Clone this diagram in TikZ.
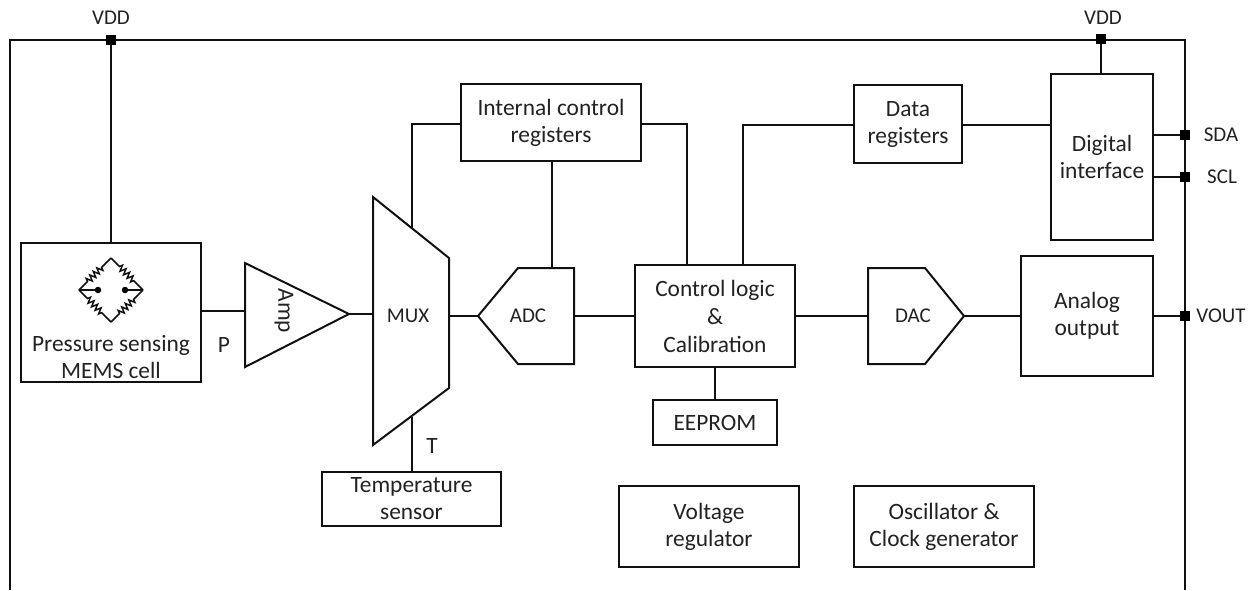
\documentclass[tikz,border=0pt]{standalone}
\usepackage{fontspec}
\setmainfont{Carlito}
\usetikzlibrary{decorations.pathmorphing,calc}
\definecolor{ink}{HTML}{111111}
\definecolor{txt}{HTML}{222222}
\tikzset{
  x=1pt,y=-1pt,
  every node/.style={text=txt,font=\fontsize{23.4}{27}\selectfont},
  wire/.style={draw=ink,line width=2pt},
  blockbox/.style={draw=ink,line width=2pt,align=center,inner sep=0pt,outer sep=0pt,fill=white},
  shapeline/.style={draw=ink,line width=2pt,line join=miter,fill=white},
  lbl/.style={inner sep=0pt,align=center},
  caplbl/.style={inner sep=0pt,font=\fontsize{21}{24}\selectfont},
  pinlbl/.style={inner sep=0pt,font=\fontsize{21}{24}\selectfont},
  pin/.style={fill=black,inner sep=0pt,outer sep=0pt,minimum size=10.5pt},
  res/.style={draw=ink,line width=1.5pt,decorate,decoration={zigzag,segment length=5pt,amplitude=3pt,pre length=12pt,post length=12pt}},
}
\begin{document}
\begin{tikzpicture}
\useasboundingbox (0,0) rectangle (1252,590);
% package outline
\coordinate (outBL) at (10,590);
\coordinate (outTL) at (10,40);
\coordinate (outTR) at (1185,40);
\coordinate (outBR) at (1185,590);
\draw[wire] (outBL) -- (outTL) -- (outTR) -- (outBR);
% rectangular blocks
\node[blockbox,minimum width=180pt,minimum height=139pt] (press) at (111,312.5) {};
\node[lbl] (presstext) at (111,357) {Pressure sensing\\MEMS cell};
\node[blockbox,minimum width=180pt,minimum height=77pt] (icr) at (551,122.5) {Internal control\\registers};
\node[blockbox,minimum width=108pt,minimum height=78pt] (data) at (908,124) {Data\\registers};
\node[blockbox,minimum width=102pt,minimum height=166pt] (digi) at (1102,157) {Digital\\interface};
\node[blockbox,minimum width=160pt,minimum height=102pt,font=\fontsize{23.4}{28}\selectfont] (ctrl) at (715,316) {Control logic\\\&\\Calibration};
\node[blockbox,minimum width=132pt,minimum height=120pt] (aout) at (1087,316) {Analog\\output};
\node[blockbox,minimum width=124pt,minimum height=45pt] (eeprom) at (715,422.5) {EEPROM};
\node[blockbox,minimum width=179pt,minimum height=54pt] (temp) at (411.5,499) {Temperature\\sensor};
\node[blockbox,minimum width=180pt,minimum height=81pt] (vreg) at (709,526.5) {Voltage\\regulator};
\node[blockbox,minimum width=180pt,minimum height=81pt] (osc) at (944,526.5) {Oscillator \&\\Clock generator};
% polygon blocks
\coordinate (ampA) at (245,263);
\coordinate (ampB) at (245,367);
\coordinate (ampT) at (349,314);
\draw[shapeline] (ampA) -- (ampT) -- (ampB) -- cycle;
\node[lbl,rotate=-90] (amptext) at (284,311) {Amp};
\coordinate (muxA) at (373,197);
\coordinate (muxB) at (449,258);
\coordinate (muxC) at (449,388);
\coordinate (muxD) at (373,445);
\draw[shapeline] (muxA) -- (muxB) -- (muxC) -- (muxD) -- cycle;
\node[caplbl] (muxtext) at (408,316) {MUX};
\coordinate (adcT) at (478,316);
\draw[shapeline] (adcT) -- (518,268) coordinate (adcA) -- (574,268) coordinate (adcB) -- (574,364) coordinate (adcC) -- (518,364) -- cycle;
\node[caplbl] (adctext) at (528,316) {ADC};
\coordinate (dacT) at (964,316);
\draw[shapeline] (868,268) coordinate (dacA) -- (925,268) -- (dacT) -- (925,364) -- (868,364) coordinate (dacB) -- cycle;
\node[caplbl] (dactext) at (913,316) {DAC};
% pins
\node[pin] (vdd1) at (111,40) {};
\node[pin] (vdd2) at (1101,39) {};
\node[pin] (sda) at (1185,135) {};
\node[pin] (scl) at (1185,177) {};
\node[pin] (vout) at (1185,316) {};
\node[pinlbl] (vdd1t) at (111,18) {VDD};
\node[pinlbl] (vdd2t) at (1103,18) {VDD};
\node[pinlbl] (sdat) at (1221,135) {SDA};
\node[pinlbl] (sclt) at (1222,177) {SCL};
\node[pinlbl] (voutt) at (1221,316) {VOUT};
\node[lbl] (pt) at (224,345) {P};
\node[lbl] (tt) at (432,446) {T};
% connectors
\draw[wire] (vdd1) -- (press.north -| vdd1);
\draw[wire] (vdd2) -- (digi.north -| vdd2);
\coordinate (pjoin) at (press.east |- 0,311);
\draw[wire] (pjoin) -- (ampA |- pjoin);
\draw[wire] (ampT) -- (muxA |- ampT);
\draw[wire] (muxB |- adcT) -- (adcT);
\draw[wire] (adcC |- ctrl) -- (ctrl.west);
\draw[wire] (ctrl.east) -- (dacA |- ctrl);
\draw[wire] (dacT) -- (aout.west |- dacT);
\draw[wire] (aout.east |- vout) -- (vout);
\draw[wire] (digi.east |- sda) -- (sda);
\draw[wire] (digi.east |- scl) -- (scl);
\coordinate (m1) at (412,228);
\draw[wire] (m1) -- (m1 |- 0,124) -- (icr.west |- 0,124);
\coordinate (r1) at (687,124);
\draw[wire] (icr.east |- r1) -- (r1) -- (r1 |- ctrl.north);
\draw[wire] (552,161) coordinate (i1) -- (i1 |- adcA);
\coordinate (c1) at (743,125);
\draw[wire] (c1 |- ctrl.north) -- (c1) -- (data.west |- c1);
\draw[wire] (data.east |- c1) -- (digi.west |- c1);
\draw[wire] (ctrl.south -| eeprom) -- (eeprom.north);
\coordinate (m2) at (412,417);
\draw[wire] (m2) -- (m2 |- temp.north);
% bridge icon
\coordinate (bT) at (111,258);
\coordinate (bL) at (79,290);
\coordinate (bR) at (143,290);
\coordinate (bB) at (111,322);
\draw[res] (bL) -- (bT);
\draw[res] (bT) -- (bR);
\draw[res] (bL) -- (bB);
\draw[res] (bB) -- (bR);
\node[circle,fill=black,inner sep=0pt,minimum size=6.5pt] (dotL) at (98,290) {};
\node[circle,fill=black,inner sep=0pt,minimum size=6.5pt] (dotR) at (125,290) {};
\draw[draw=ink,line width=1.5pt] (bL) -- (dotL);
\draw[draw=ink,line width=1.5pt] (bR) -- (dotR);
\end{tikzpicture}
\end{document}
